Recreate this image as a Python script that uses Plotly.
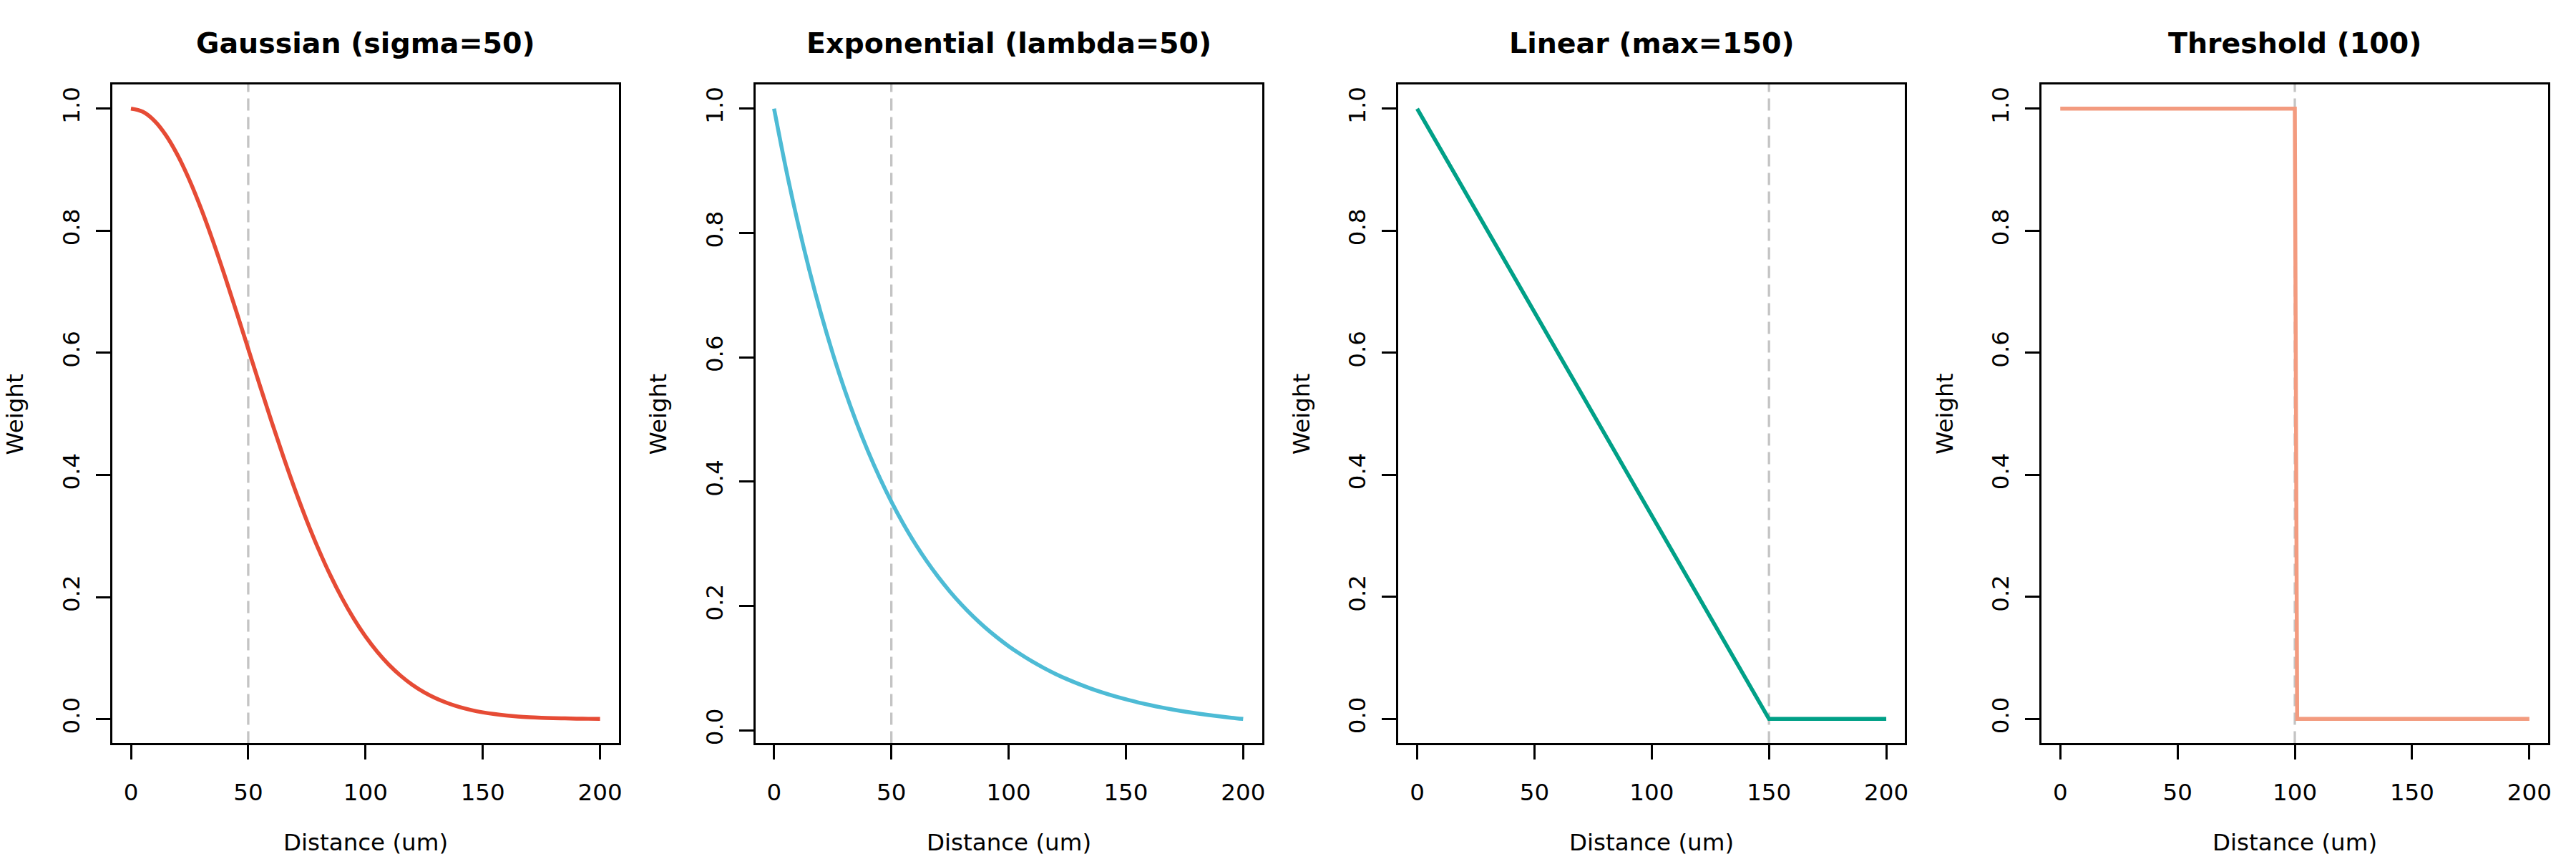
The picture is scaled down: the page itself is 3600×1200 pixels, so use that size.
import plotly.graph_objects as go
from plotly.subplots import make_subplots

# Weight curves (distance in um)
distance = [0, 5, 10, 15, 20, 25, 30, 35, 40, 45, 50, 55, 60, 65, 70, 75, 80, 85, 90, 95, 100,
            105, 110, 115, 120, 125, 130, 135, 140, 145, 150, 155, 160, 165, 170, 175, 180,
            185, 190, 195, 200]
gaussian_weight = [1.0000, 0.9950, 0.9802, 0.9560, 0.9231, 0.8825, 0.8353, 0.7827, 0.7261, 0.6670,
                   0.6065, 0.5461, 0.4868, 0.4296, 0.3753, 0.3247, 0.2780, 0.2357, 0.1979, 0.1645,
                   0.1353, 0.1103, 0.0889, 0.0710, 0.0561, 0.0439, 0.0340, 0.0261, 0.0198, 0.0149,
                   0.0111, 0.0082, 0.0060, 0.0043, 0.0031, 0.0022, 0.0015, 0.0011, 0.0007, 0.0005,
                   0.0003]
exponential_weight = [1.0000, 0.9048, 0.8187, 0.7408, 0.6703, 0.6065, 0.5488, 0.4966, 0.4493, 0.4066,
                      0.3679, 0.3329, 0.3012, 0.2725, 0.2466, 0.2231, 0.2019, 0.1827, 0.1653, 0.1496,
                      0.1353, 0.1225, 0.1108, 0.1003, 0.0907, 0.0821, 0.0743, 0.0672, 0.0608, 0.0550,
                      0.0498, 0.0450, 0.0408, 0.0369, 0.0334, 0.0302, 0.0273, 0.0247, 0.0224, 0.0202,
                      0.0183]
linear_distance = [0, 150, 200]
linear_weight = [1.0, 0.0, 0.0]
threshold_distance = [0, 100, 101, 200]
threshold_weight = [1.0, 1.0, 0.0, 0.0]

panel_titles = ['Gaussian (sigma=50)', 'Exponential (lambda=50)', 'Linear (max=150)', 'Threshold (100)']
cutoffs = [50, 50, 150, 100]
colors = ['#E64B35', '#4DBBD5', '#00A087', '#F39B7F']
x_ticks = [0, 50, 100, 150, 200]
y_ticks = [0.0, 0.2, 0.4, 0.6, 0.8, 1.0]

W, H = 3600, 1200
FONT = 'DejaVu Sans'


def padded(values, frac=0.04):
    """R-style axis range: data range stretched by 4% each side."""
    lo, hi = min(values), max(values)
    pad = (hi - lo) * frac
    return [lo - pad, hi + pad]


def main():
    series = [
        (distance, gaussian_weight),
        (distance, exponential_weight),
        (linear_distance, linear_weight),
        (threshold_distance, threshold_weight),
    ]

    fig = make_subplots(rows=1, cols=4)

    for i, (xs, ys) in enumerate(series):
        col = i + 1
        # smooth the sampled curves, keep the piecewise ones straight
        shape = 'spline' if i < 2 else 'linear'
        fig.add_trace(go.Scatter(x=xs, y=ys, mode='lines',
                                 line=dict(color=colors[i], width=5.5, shape=shape),
                                 showlegend=False), row=1, col=col)

        # plot region in pixels, same layout as R's mfrow=c(1,4)
        left = (i * 900 + 157) / W
        right = (i * 900 + 866) / W
        xname = 'xaxis' if i == 0 else f'xaxis{col}'
        yname = 'yaxis' if i == 0 else f'yaxis{col}'
        fig.layout[xname].update(
            domain=[left, right], range=padded(xs), tickvals=x_ticks,
            ticks='outside', ticklen=20, tickwidth=3, tickcolor='black',
            showline=True, linecolor='black', linewidth=3, mirror=True,
            showgrid=False, zeroline=False, ticklabelstandoff=18,
            tickfont=dict(family=FONT, size=32.5, color='black'))
        fig.layout[yname].update(
            domain=[1 - 1041 / H, 1 - 118 / H], range=padded(ys), tickvals=y_ticks,
            tickformat='.1f', tickangle=-90,
            ticks='outside', ticklen=20, tickwidth=3, tickcolor='black',
            showline=True, linecolor='black', linewidth=3, mirror=True,
            showgrid=False, zeroline=False, ticklabelstandoff=10,
            tickfont=dict(family=FONT, size=32.5, color='black'))

        xref = 'x' if i == 0 else f'x{col}'
        yref = 'y domain' if i == 0 else f'y{col} domain'
        fig.add_shape(type='line', xref=xref, yref=yref,
                      x0=cutoffs[i], x1=cutoffs[i], y0=0, y1=1,
                      line=dict(color='#C4C4C4', width=3.3, dash='17px,9px'), layer='below')

        center = (left + right) / 2
        fig.add_annotation(text=f'<b>{panel_titles[i]}</b>', xref='paper', yref='paper',
                           x=center, y=1 - 60 / H, showarrow=False,
                           xanchor='center', yanchor='middle',
                           font=dict(family=FONT, size=39.5, color='black'))
        fig.add_annotation(text='Distance (um)', xref='paper', yref='paper',
                           x=center, y=1 - 1180 / H, showarrow=False,
                           xanchor='center', yanchor='middle',
                           font=dict(family=FONT, size=32.5, color='black'))
        fig.add_annotation(text='Weight', xref='paper', yref='paper',
                           x=(i * 900 + 21) / W, y=1 - 580 / H, showarrow=False,
                           textangle=-90, xanchor='center', yanchor='middle',
                           font=dict(family=FONT, size=32.5, color='black'))

    fig.update_layout(width=W, height=H, margin=dict(l=0, r=0, t=0, b=0),
                      paper_bgcolor='white', plot_bgcolor='white',
                      font=dict(family=FONT))
    # drop the browser's default 8px body margin so the figure sits at the page origin
    fig.write_html('out.html', config={'displayModeBar': False},
                   post_script="document.body.style.margin='0';")


if __name__ == '__main__':
    main()
